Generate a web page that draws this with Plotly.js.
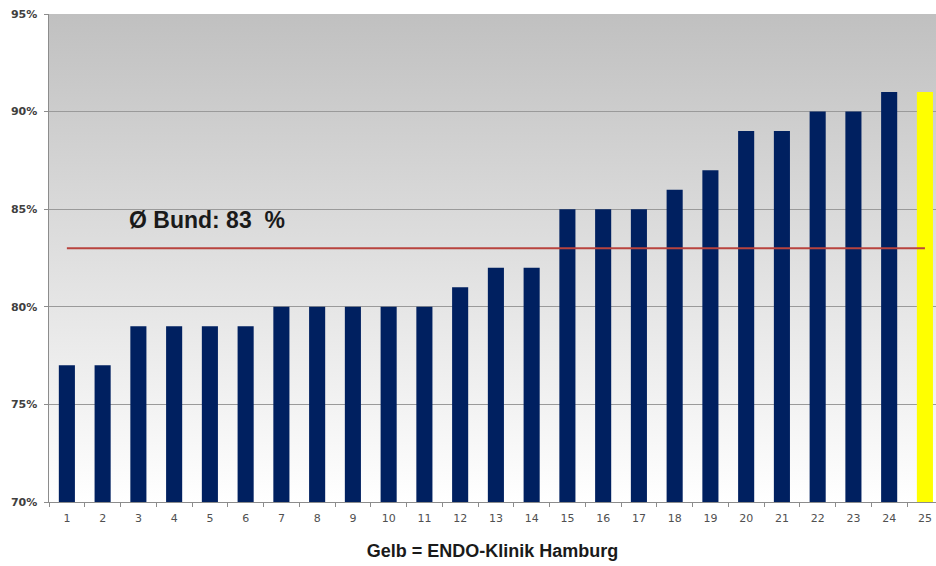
<!DOCTYPE html>
<html><head><meta charset="utf-8">
<script src="https://cdn.plot.ly/plotly-3.0.1.min.js"></script>
<style>html,body{margin:0;padding:0;background:#fff;}#chart{width:936px;height:566px;}</style>
</head><body><div id="chart"></div>
<script>
const categories = ["1","2","3","4","5","6","7","8","9","10","11","12","13","14","15","16","17","18","19","20","21","22","23","24","25"];
const values = [77,77,79,79,79,79,80,80,80,80,80,81,82,82,85,85,85,86,87,89,89,90,90,91,91];
const highlightIndex = 24;
const averageValue = 83;
const averageLabel = "Ø Bund: 83  %";
const yTickVals = [70,75,80,85,90,95];
const yTickText = ["70%","75%","80%","85%","90%","95%"];
const xTitle = "Gelb = ENDO-Klinik Hamburg";

const barColors = values.map((v,i)=> i===highlightIndex ? "#ffff00" : "#002060");

const grad = 'data:image/svg+xml;utf8,' + encodeURIComponent(
 '<svg xmlns="http://www.w3.org/2000/svg" width="100" height="100" preserveAspectRatio="none"><defs><linearGradient id="g" x1="0" y1="0" x2="0" y2="1"><stop offset="0" stop-color="#c0c0c0"/><stop offset="1" stop-color="#ffffff"/></linearGradient></defs><rect width="100" height="100" fill="url(#g)"/></svg>');

const traces = [
 {type:'bar', x:categories, y:values, marker:{color:barColors, line:{width:0}}, width:0.45, hoverinfo:'x+y'},
 {type:'scatter', mode:'lines', x:categories, y:categories.map(()=>averageValue), line:{color:'#b8433e', width:2}, hoverinfo:'y'}
];

const layout = {
 width:936, height:566,
 margin:{l:49, r:0, t:14, b:64},
 paper_bgcolor:'#ffffff', plot_bgcolor:'rgba(0,0,0,0)',
 showlegend:false,
 font:{family:'"Liberation Sans", Arial, sans-serif'},
 images:[{source:grad, xref:'paper', yref:'paper', x:0, y:1, sizex:1, sizey:1, sizing:'stretch', layer:'below'}],
 xaxis:{type:'category', range:[-0.5, 24.31], tickson:'boundaries', ticks:'outside', ticklen:4, tickcolor:'#8c8c8c',
   showline:true, linecolor:'#8c8c8c', linewidth:1, showgrid:false, zeroline:false, ticklabelstandoff:6,
   tickfont:{family:'"DejaVu Sans", Tahoma, sans-serif', size:11, color:'#505050'},
   title:{text:xTitle, font:{family:'"Liberation Sans", Arial, sans-serif', size:18, color:'#1a1a1a', weight:'bold'}, standoff:20}},
 yaxis:{range:[70,95], tickvals:yTickVals, ticktext:yTickText, ticks:'outside', ticklen:4, tickcolor:'#8c8c8c',
   showline:true, linecolor:'#8c8c8c', linewidth:1.5, showgrid:true, gridcolor:'#9a9a9a', gridwidth:1, zeroline:false,
   ticklabelstandoff:4,
   tickfont:{family:'"DejaVu Sans", Tahoma, sans-serif', size:11, color:'#404040', weight:'bold'}},
 annotations:[{xref:'x', yref:'y', x:3.93, y:84.45, text:averageLabel, showarrow:false,
   font:{family:'"Liberation Sans", Arial, sans-serif', size:23, color:'#1a1a1a', weight:'bold'}}]
};

Plotly.newPlot('chart', traces, layout, {displayModeBar:false, staticPlot:true});
</script></body></html>
